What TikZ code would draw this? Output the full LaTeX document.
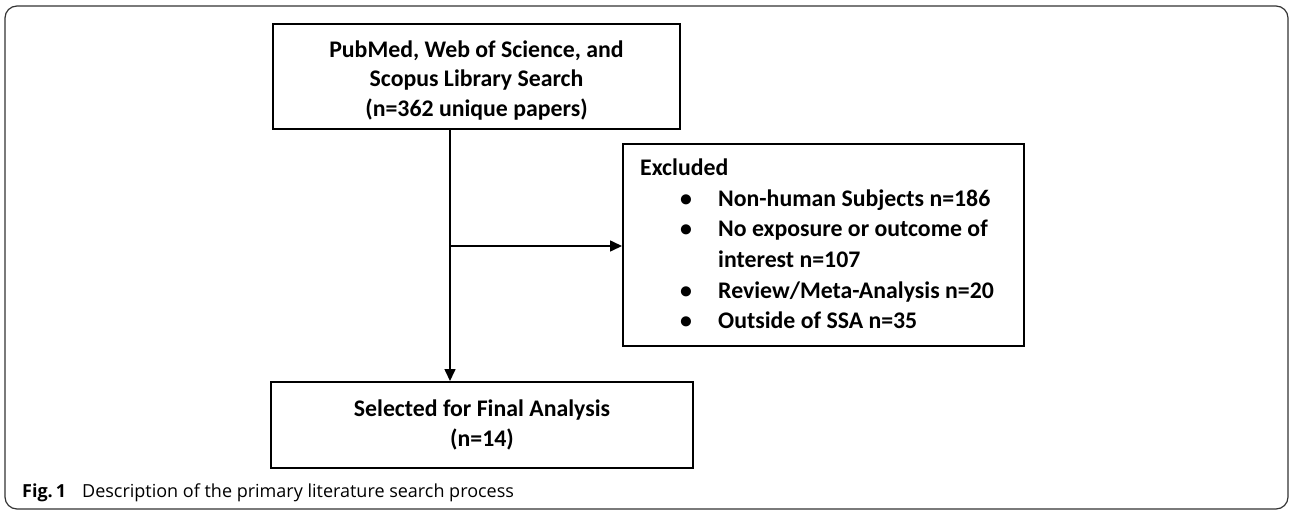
\documentclass[tikz,border=0pt]{standalone}
\usepackage{fontspec}
\setmainfont{Carlito}
\newfontfamily\capfont{Open Sans}
\usetikzlibrary{arrows.meta,calc}
\begin{document}
\begin{tikzpicture}[x=1pt,y=-1pt,
  flowbox/.style={draw=black,line width=2pt,rectangle,inner sep=0pt,
    font=\fontsize{23.8}{29.6}\selectfont\bfseries,align=center},
  arr/.style={line width=1.6pt,-{Triangle[length=12pt,width=11pt]}},
  frame/.style={draw=black!80,line width=1.2pt,rounded corners=12pt}]
\useasboundingbox (0,0) rectangle (1290,514);
\node[frame,minimum width=1283pt,minimum height=503pt,inner sep=0pt] (frm) at (646.5,257.5) {};
\node[flowbox,minimum width=407pt,minimum height=105pt] (top) at (476.5,76.5)
  {\rule{0pt}{24pt}PubMed, Web of Science, and\\Scopus Library Search\\(n=362 unique papers)};
\node[flowbox,minimum width=401pt,minimum height=202pt] (excl) at (823.5,245) {};
\node[anchor=north west,inner sep=0pt,font=\fontsize{23.8}{30.6}\selectfont\bfseries] (excltext) at (640,154)
  {\begin{tabular}{@{}p{40pt}@{}p{38pt}@{}l@{}}
   \multicolumn{3}{@{}l@{}}{Excluded}\\
   & \textbullet & Non-human Subjects n=186\\
   & \textbullet & No exposure or outcome of\\
   & & interest n=107\\
   & \textbullet & Review/Meta-Analysis n=20\\
   & \textbullet & Outside of SSA n=35
  \end{tabular}};
\node[flowbox,minimum width=422pt,minimum height=86pt,font=\fontsize{23.8}{30.8}\selectfont\bfseries] (bot) at (482,425)
  {Selected for Final Analysis\\(n=14)};
\coordinate (j) at (450,246);
\draw[arr] (top.south -| j) -- (bot.north -| j);
\draw[arr] (j) -- (excl.west |- j);
\node[anchor=base west,inner sep=0pt,font=\capfont\fontsize{18}{22}\selectfont] (cap) at (22,497)
  {\textbf{Fig.\,1}\hspace{16pt}Description of the primary literature search process};
\end{tikzpicture}
\end{document}
